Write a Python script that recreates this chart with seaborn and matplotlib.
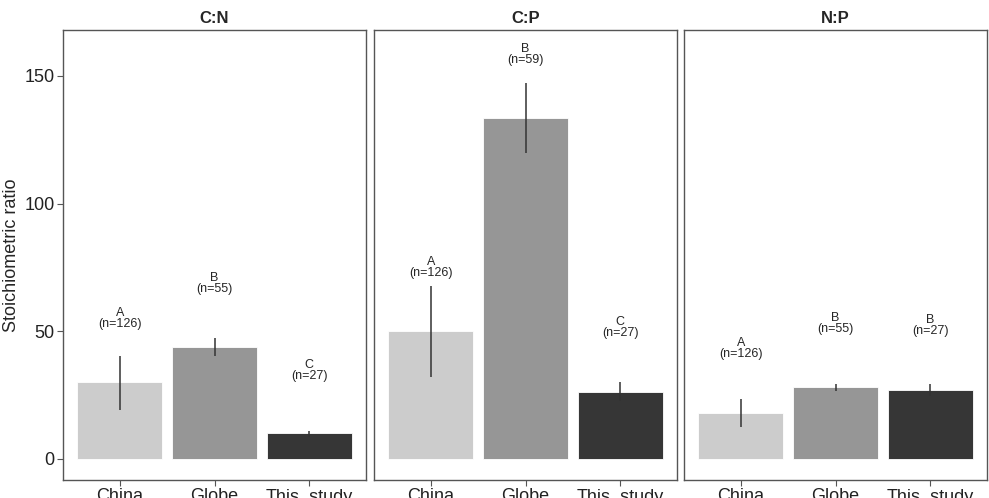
import pandas as pd
import matplotlib.pyplot as plt
import seaborn as sns

# --- Data ---
panels = ["C:N", "C:P", "N:P"]
groups = ["China", "Globe", "This_study"]

cn_mean = [30.0, 43.9, 10.1]
cn_low = [19.2, 40.4, 8.7]
cn_high = [40.4, 47.4, 11.0]

cp_mean = [50.1, 133.5, 26.3]
cp_low = [32.2, 120.0, 22.7]
cp_high = [67.8, 147.2, 30.1]

np_mean = [18.0, 28.2, 27.0]
np_low = [12.5, 26.7, 24.7]
np_high = [23.5, 29.4, 29.4]

cn_letters = ["A", "B", "C"]
cp_letters = ["A", "B", "C"]
np_letters = ["A", "B", "B"]

cn_n = ["(n=126)", "(n=55)", "(n=27)"]
cp_n = ["(n=126)", "(n=59)", "(n=27)"]
np_n = ["(n=126)", "(n=55)", "(n=27)"]

cn_label_y = [54.8, 68.5, 34.5]
cp_label_y = [74.8, 158.3, 51.2]
np_label_y = [43.0, 52.8, 52.0]

colors = ["#cccccc", "#969696", "#363636"]

# --- Build table ---
rows = []
for p, m, lo, hi, let, nn, ly in [
    ("C:N", cn_mean, cn_low, cn_high, cn_letters, cn_n, cn_label_y),
    ("C:P", cp_mean, cp_low, cp_high, cp_letters, cp_n, cp_label_y),
    ("N:P", np_mean, np_low, np_high, np_letters, np_n, np_label_y),
]:
    for g, a, b, c, l, n, y in zip(groups, m, lo, hi, let, nn, ly):
        rows.append({"panel": p, "group": g, "mean": a, "low": b, "high": c,
                     "letter": l, "n": n, "label_y": y})
df = pd.DataFrame(rows)

# --- Plot ---
sns.set_style("white")
plt.rcParams["font.family"] = ["Liberation Sans", "DejaVu Sans"]

fig = plt.figure(figsize=(9.89, 4.98), dpi=100)
lefts = [63, 374, 684]
width = 303
bottom, top = 480, 30
for i, p in enumerate(panels):
    ax = fig.add_axes([lefts[i] / 989, 1 - bottom / 498, width / 989, (bottom - top) / 498])
    sub = df[df["panel"] == p]
    sns.barplot(data=sub, x="group", y="mean", hue="group", palette=colors,
                order=groups, width=0.9, errorbar=None, legend=False,
                edgecolor="white", linewidth=0.6, ax=ax)
    # error bars
    ax.vlines(sub["group"], sub["low"], sub["high"], color="#333333", lw=1.1)
    # significance letters and sample sizes
    for _, r in sub.iterrows():
        ax.text(r["group"], r["label_y"], r["letter"], ha="center", va="bottom", fontsize=9)
        ax.text(r["group"], r["label_y"] + 0.4, r["n"], ha="center", va="top", fontsize=9)
    ax.set_xlim(-0.6, 2.6)
    ax.set_ylim(-8.3, 168)
    ax.set_title(p, fontsize=12, fontweight="bold", pad=5)
    ax.set_xlabel("")
    ax.tick_params(axis="both", direction="out", length=4, width=0.8, color="#555555",
                   labelsize=13, labelcolor="#222222", pad=2, bottom=True, left=(i == 0))
    for s in ax.spines.values():
        s.set_color("#555555")
        s.set_linewidth(1.0)
    if i == 0:
        ax.set_yticks([0, 50, 100, 150])
        ax.set_ylabel("Stoichiometric ratio", fontsize=13)
        ax.yaxis.set_label_coords(-0.142, 0.5)
    else:
        ax.set_yticks([])
        ax.set_ylabel("")

plt.savefig("out.png", dpi=100)
